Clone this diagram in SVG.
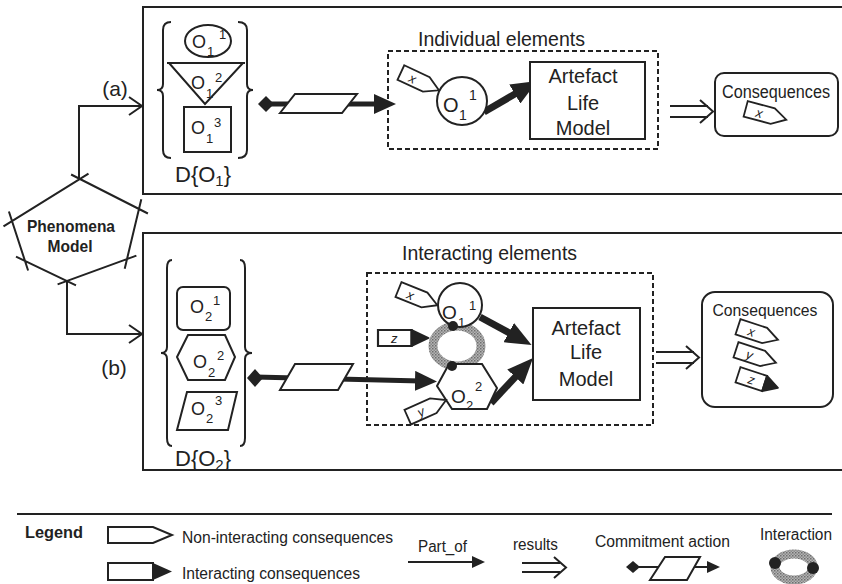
<svg xmlns="http://www.w3.org/2000/svg" width="842" height="584" viewBox="0 0 842 584">
<style>
.ln{fill:none;stroke:#222;stroke-width:2}
.wf{fill:#fff;stroke:#222;stroke-width:2}
.th{fill:none;stroke:#222;stroke-width:5}
.tk{fill:none;stroke:#222;stroke-width:7}
.ds{fill:none;stroke:#222;stroke-width:2;stroke-dasharray:5 3}
.t{font-family:"Liberation Sans",Arial,Helvetica,sans-serif;fill:#222}
.ring{fill:none;stroke:url(#grain);stroke-width:9}
</style>
<defs>
<pattern id="grain" width="3" height="3" patternUnits="userSpaceOnUse"><rect width="3" height="3" fill="#b4b4b4"/><rect width="1.5" height="1.5" fill="#6e6e6e"/><rect x="1.5" y="1.5" width="1.5" height="1.5" fill="#8a8a8a"/></pattern>
<marker id="ahM" viewBox="0 0 22 20" refX="6" refY="10" markerWidth="22" markerHeight="20" markerUnits="userSpaceOnUse" orient="auto"><path d="M0,0 L22,10 L0,20 Z" fill="#222"/></marker>
<marker id="ahB" viewBox="0 0 26 22" refX="6" refY="11" markerWidth="26" markerHeight="22" markerUnits="userSpaceOnUse" orient="auto"><path d="M0,0 L26,11 L0,22 Z" fill="#222"/></marker>
<marker id="ahS" viewBox="0 0 13 12" refX="3" refY="6" markerWidth="13" markerHeight="12" markerUnits="userSpaceOnUse" orient="auto"><path d="M0,0 L13,6 L0,12 Z" fill="#222"/></marker>
<path id="tagO" d="M-20,-8 H8 L22,0 L8,8 H-20 Z" fill="#fff" stroke="#222" stroke-width="1.8"/>
<g id="tagI"><path d="M-20,-8 H8 V8 H-20 Z" fill="#fff" stroke="#222" stroke-width="1.8"/><path d="M8,-8 L22,0 L8,8 Z" fill="#222" stroke="#222" stroke-width="1.8" stroke-linejoin="round"/></g>
</defs>
<rect width="842" height="584" fill="#fff"/>

<!-- panels -->
<g id="panel-a"><rect x="143" y="7" width="702" height="187" class="ln"/></g>
<g id="panel-b"><rect x="143" y="233" width="702" height="237" class="ln"/></g>

<!-- connectors -->
<g id="connectors">
  <path d="M79,179 V106 H141" class="ln" stroke-width="2.5"/>
  <path d="M129,97 L142,106 L129,115" class="ln" stroke-width="2.5"/>
  <path d="M67,281 V334 H141" class="ln" stroke-width="2.5"/>
  <path d="M129,325 L142,334 L129,343" class="ln" stroke-width="2.5"/>
  <text x="115" y="96" text-anchor="middle" class="t" font-size="21">(a)</text>
  <text x="114" y="375" text-anchor="middle" class="t" font-size="21">(b)</text>
  <!-- commitment (a) -->
  <line x1="266" y1="104" x2="380" y2="104" class="th" marker-end="url(#ahM)"/>
  <polygon points="258,104 266,96 274,104 266,112" fill="#222"/>
  <polygon points="280,113 295,94 357,94 342,113" class="wf"/>
  <!-- commitment (b) -->
  <line x1="255" y1="377" x2="421" y2="381" class="th" marker-end="url(#ahM)"/>
  <polygon points="247,378 255,369 263,378 255,387" fill="#222"/>
  <polygon points="280,390 295,364 353,364 338,390" class="wf"/>
  <!-- part_of arrows to artefact -->
  <line x1="484" y1="112" x2="520" y2="91" class="tk" marker-end="url(#ahB)"/>
  <line x1="480" y1="317" x2="514" y2="335.5" class="tk" marker-end="url(#ahB)"/>
  <line x1="491" y1="403" x2="519.4" y2="372.6" class="tk" marker-end="url(#ahB)"/>
  <!-- results arrows -->
  <path d="M670,106 H708 M670,117 H708" class="ln" stroke-width="2.5"/>
  <path d="M700,100 L713,111.5 L700,123" class="ln" stroke-width="2.5"/>
  <path d="M656,352 H694 M656,363 H694" class="ln" stroke-width="2.5"/>
  <path d="M686,346 L699,357.5 L686,369" class="ln" stroke-width="2.5"/>
</g>

<!-- Phenomena model -->
<g id="phenomena-model">
  <polygon points="80,179 139,209 127,259 67,281 25,261 12,221" fill="#fff"/>
  <path d="M71.1,174.5 L147.9,213.5 M141.3,199.3 L124.7,268.7 M136.4,255.6 L57.6,284.4 M76,285.3 L16,256.7 M28.1,270.5 L8.9,211.5 M3.5,226.3 L88.5,173.7" class="ln" stroke-width="2.2"/>
  <text x="71" y="232" text-anchor="middle" class="t" font-size="17" font-weight="bold" textLength="88" lengthAdjust="spacingAndGlyphs">Phenomena</text>
  <text x="70" y="252" text-anchor="middle" class="t" font-size="17" font-weight="bold" textLength="45" lengthAdjust="spacingAndGlyphs">Model</text>
</g>

<!-- D{O1} set -->
<g id="set-O1">
  <path d="M171,22 Q163,22 163,30 V84 Q163,90 157,90 Q163,90 163,96 V150 Q163,158 171,158" class="ln"/>
  <path d="M238,22 Q247,22 247,30 V84 Q247,90 253,90 Q247,90 247,96 V150 Q247,158 238,158" class="ln"/>
  <ellipse cx="208" cy="41" rx="23" ry="16" class="ln"/>
  <text class="t" font-size="18"><tspan x="192" y="48">O</tspan><tspan x="207" y="56" font-size="13">1</tspan><tspan x="219" y="39" font-size="13">1</tspan></text>
  <line x1="167" y1="63" x2="245" y2="63" class="ln"/>
  <polygon points="169,63 243,63 205,104" class="ln"/>
  <text class="t" font-size="18"><tspan x="191" y="89">O</tspan><tspan x="206" y="98" font-size="13">1</tspan><tspan x="215" y="82" font-size="13">2</tspan></text>
  <rect x="184" y="107" width="47" height="45" class="ln"/>
  <text class="t" font-size="18"><tspan x="191" y="134">O</tspan><tspan x="206" y="143" font-size="13">1</tspan><tspan x="214" y="127" font-size="13">3</tspan></text>
  <text class="t" font-size="22"><tspan x="175" y="182">D{O</tspan><tspan font-size="15" dy="4">1</tspan><tspan dy="-4">}</tspan></text>
</g>

<!-- Individual elements -->
<g id="individual-elements">
  <rect x="388" y="51" width="270" height="98" class="ds"/>
  <text x="418" y="46" class="t" font-size="20" textLength="167" lengthAdjust="spacingAndGlyphs">Individual elements</text>
  <g transform="translate(419,81) rotate(25)"><use href="#tagO"/><text x="-10" y="5" class="t" font-size="13" font-style="italic">x</text></g>
  <ellipse cx="462" cy="101" rx="25" ry="24" class="wf"/>
  <text class="t" font-size="20"><tspan x="443" y="112">O</tspan><tspan x="459" y="120" font-size="14">1</tspan><tspan x="469" y="100" font-size="14">1</tspan></text>
</g>
<g id="artefact-a">
  <rect x="530" y="62" width="115" height="77" class="wf"/>
  <text x="583" y="83" text-anchor="middle" class="t" font-size="20">Artefact</text>
  <text x="583" y="110" text-anchor="middle" class="t" font-size="20">Life</text>
  <text x="583" y="135" text-anchor="middle" class="t" font-size="20">Model</text>
</g>
<g id="consequences-a">
  <rect x="715" y="73" width="123" height="63" rx="9" class="wf"/>
  <text x="776" y="98" text-anchor="middle" class="t" font-size="18" textLength="108" lengthAdjust="spacingAndGlyphs">Consequences</text>
  <g transform="translate(765,114) rotate(15)"><use href="#tagO"/><text x="-9" y="5" class="t" font-size="13" font-style="italic">x</text></g>
</g>

<!-- D{O2} set -->
<g id="set-O2">
  <path d="M172,260 Q167,260 167,268 V347 Q167,353 161,353 Q167,353 167,359 V438 Q167,446 172,446" class="ln"/>
  <path d="M240,260 Q245,260 245,268 V347 Q245,353 252,353 Q245,353 245,359 V438 Q245,446 240,446" class="ln"/>
  <rect x="177" y="287" width="53" height="43" rx="6" class="ln"/>
  <text class="t" font-size="18"><tspan x="190" y="313">O</tspan><tspan x="205" y="321" font-size="13">2</tspan><tspan x="213" y="305" font-size="13">1</tspan></text>
  <polygon points="177,357 188,335 225,335 235,357 225,380 188,380" class="ln"/>
  <text class="t" font-size="18"><tspan x="193" y="368">O</tspan><tspan x="208" y="377" font-size="13">2</tspan><tspan x="217" y="360" font-size="13">2</tspan></text>
  <polygon points="187,392 237,392 228,430 177,430" class="ln"/>
  <text class="t" font-size="18"><tspan x="191" y="415">O</tspan><tspan x="206" y="423" font-size="13">2</tspan><tspan x="215" y="405" font-size="13">3</tspan></text>
  <text class="t" font-size="22"><tspan x="175" y="466">D{O</tspan><tspan font-size="15" dy="4">2</tspan><tspan dy="-4">}</tspan></text>
</g>

<!-- Interacting elements -->
<g id="interacting-elements">
  <rect x="367" y="273" width="286" height="152" class="ds"/>
  <text x="402" y="260" class="t" font-size="21" textLength="175" lengthAdjust="spacingAndGlyphs">Interacting elements</text>
  <ellipse cx="457" cy="346" rx="24" ry="20" class="ring"/>
  <g transform="translate(417,297) rotate(22)"><use href="#tagO"/><text x="-10" y="5" class="t" font-size="13" font-style="italic">x</text></g>
  <ellipse cx="460" cy="305" rx="22" ry="22" class="wf"/>
  <text class="t" font-size="19"><tspan x="442" y="319">O</tspan><tspan x="458" y="327" font-size="13">1</tspan><tspan x="469" y="310" font-size="13">1</tspan></text>
  <g transform="translate(402,338)"><use href="#tagI" transform="scale(1.2,1)"/><text x="-11" y="5" class="t" font-size="13" font-style="italic">z</text></g>
  <polygon points="437,386 449,364 482,364 497,388 487,409 452,409" class="wf"/>
  <text class="t" font-size="19"><tspan x="451" y="403">O</tspan><tspan x="466" y="410" font-size="13">2</tspan><tspan x="475" y="391" font-size="13">2</tspan></text>
  <g transform="translate(426,409) rotate(-24)"><use href="#tagO"/><text x="-9" y="5" class="t" font-size="13" font-style="italic">y</text></g>
  <circle cx="453" cy="326" r="5" fill="#222"/>
  <circle cx="452" cy="366" r="5" fill="#222"/>
</g>
<g id="artefact-b">
  <rect x="533" y="308" width="107" height="92" class="wf"/>
  <text x="586" y="335" text-anchor="middle" class="t" font-size="20">Artefact</text>
  <text x="586" y="359" text-anchor="middle" class="t" font-size="20">Life</text>
  <text x="586" y="386" text-anchor="middle" class="t" font-size="20">Model</text>
</g>
<g id="consequences-b">
  <rect x="702" y="292" width="131" height="115" rx="13" class="wf"/>
  <text x="765" y="316" text-anchor="middle" class="t" font-size="17" textLength="105" lengthAdjust="spacingAndGlyphs">Consequences</text>
  <g transform="translate(757,333) rotate(18)"><use href="#tagO"/><text x="-9" y="5" class="t" font-size="13" font-style="italic">x</text></g>
  <g transform="translate(755,356) rotate(18)"><use href="#tagO"/><text x="-9" y="5" class="t" font-size="13" font-style="italic">y</text></g>
  <g transform="translate(757,381) rotate(18)"><use href="#tagI"/><text x="-9" y="5" class="t" font-size="13" font-style="italic">z</text></g>
</g>

<!-- Legend -->
<g id="legend">
  <line x1="17" y1="514" x2="832" y2="514" class="ln" stroke-width="1.5"/>
  <text x="25" y="538" class="t" font-size="16" font-weight="bold" textLength="58" lengthAdjust="spacingAndGlyphs">Legend</text>
  <path d="M108,527 H153 L172,535 L153,543 H108 Z" class="wf" stroke-width="1.5"/>
  <text x="182" y="543" class="t" font-size="16" textLength="211" lengthAdjust="spacingAndGlyphs">Non-interacting consequences</text>
  <path d="M108,563 H153 V580 H108 Z" class="wf" stroke-width="1.5"/>
  <path d="M153,563 L172,571.5 L153,580 Z" fill="#222"/>
  <text x="182" y="579" class="t" font-size="16" textLength="178" lengthAdjust="spacingAndGlyphs">Interacting consequences</text>
  <text x="418" y="552" class="t" font-size="16" textLength="49" lengthAdjust="spacingAndGlyphs">Part_of</text>
  <line x1="408" y1="562" x2="475" y2="562" class="ln" stroke-width="3" marker-end="url(#ahS)"/>
  <text x="513" y="550" class="t" font-size="16" textLength="45" lengthAdjust="spacingAndGlyphs">results</text>
  <path d="M522,563 H560 M522,572 H560" class="ln" stroke-width="2"/>
  <path d="M554,557 L566,567.5 L554,578" class="ln" stroke-width="2"/>
  <text x="595" y="547" class="t" font-size="16" textLength="135" lengthAdjust="spacingAndGlyphs">Commitment action</text>
  <line x1="633" y1="567" x2="710" y2="567" class="ln" stroke-width="2.5" marker-end="url(#ahS)"/>
  <polygon points="626,567 633,561 640,567 633,573" fill="#222"/>
  <polygon points="650,580 665,557 700,557 687,580" class="wf" stroke-width="1.8"/>
  <text x="760" y="540" class="t" font-size="16" textLength="72" lengthAdjust="spacingAndGlyphs">Interaction</text>
  <ellipse cx="794" cy="567" rx="19" ry="13" class="ring" stroke-width="10"/>
  <circle cx="775" cy="563" r="6" fill="#222"/>
  <circle cx="813" cy="568" r="6" fill="#222"/>
</g>
</svg>
